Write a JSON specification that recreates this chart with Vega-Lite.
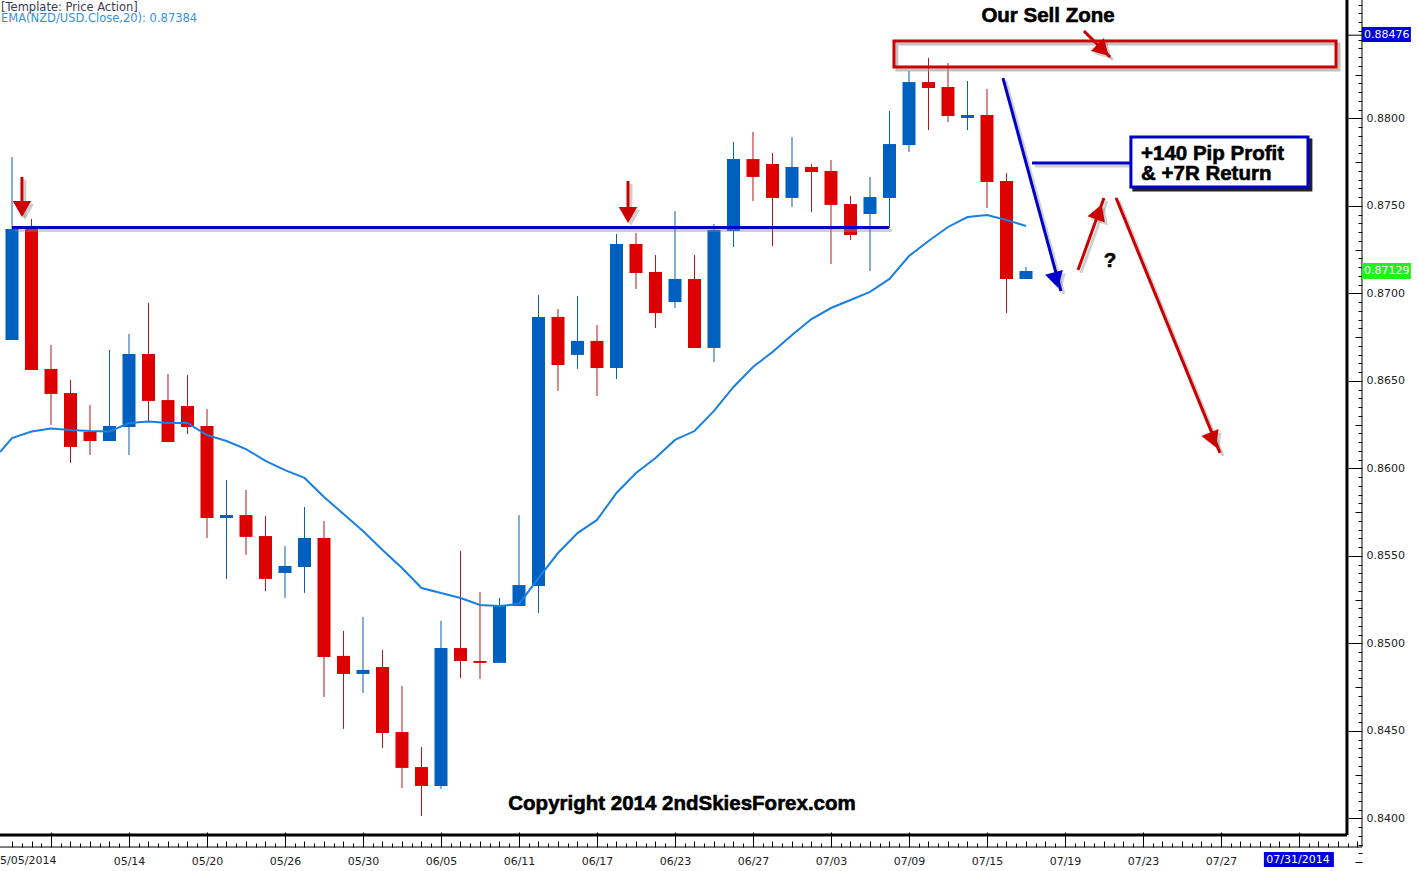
{"$schema":"https://vega.github.io/schema/vega-lite/v6.json","width":1418,"height":871,"padding":0,"autosize":{"type":"none"},"background":"white","config":{"scale":{"continuousPadding":0},"view":{"stroke":null},"axis":{"grid":false,"domain":false,"title":null,"tickColor":"#000","labelFont":"DejaVu Sans","labelFontSize":11,"labelColor":"#222"}},
"datasets":{
"candles":[
{"i":0,"dir":"up","open":0.86734,"high":0.8778,"low":0.86734,"close":0.87368},
{"i":1,"dir":"down","open":0.87368,"high":0.87426,"low":0.86563,"close":0.86563},
{"i":2,"dir":"down","open":0.86569,"high":0.86706,"low":0.86249,"close":0.86426},
{"i":3,"dir":"down","open":0.86431,"high":0.86506,"low":0.86031,"close":0.86123},
{"i":4,"dir":"down","open":0.86209,"high":0.86363,"low":0.86077,"close":0.86157},
{"i":5,"dir":"up","open":0.86157,"high":0.86677,"low":0.86157,"close":0.86243},
{"i":6,"dir":"up","open":0.86237,"high":0.86769,"low":0.86077,"close":0.86654},
{"i":7,"dir":"down","open":0.86654,"high":0.86946,"low":0.86266,"close":0.86386},
{"i":8,"dir":"down","open":0.86391,"high":0.8654,"low":0.86151,"close":0.86151},
{"i":9,"dir":"down","open":0.86357,"high":0.86534,"low":0.86197,"close":0.86237},
{"i":10,"dir":"down","open":0.86243,"high":0.8634,"low":0.85603,"close":0.85717},
{"i":11,"dir":"up","open":0.85717,"high":0.85934,"low":0.85369,"close":0.85734},
{"i":12,"dir":"down","open":0.85734,"high":0.85877,"low":0.85506,"close":0.85609},
{"i":13,"dir":"down","open":0.85614,"high":0.85729,"low":0.853,"close":0.85369},
{"i":14,"dir":"up","open":0.85403,"high":0.85557,"low":0.8526,"close":0.85443},
{"i":15,"dir":"up","open":0.85437,"high":0.8578,"low":0.85289,"close":0.85603},
{"i":16,"dir":"down","open":0.85603,"high":0.857,"low":0.84694,"close":0.84923},
{"i":17,"dir":"down","open":0.84929,"high":0.85072,"low":0.84512,"close":0.84826},
{"i":18,"dir":"up","open":0.84826,"high":0.85152,"low":0.84717,"close":0.84849},
{"i":19,"dir":"down","open":0.84866,"high":0.84963,"low":0.84403,"close":0.84489},
{"i":20,"dir":"down","open":0.84494,"high":0.84757,"low":0.84174,"close":0.84289},
{"i":21,"dir":"down","open":0.84294,"high":0.84409,"low":0.84014,"close":0.84186},
{"i":22,"dir":"up","open":0.84186,"high":0.85129,"low":0.84169,"close":0.84974},
{"i":23,"dir":"down","open":0.84974,"high":0.85529,"low":0.84803,"close":0.849},
{"i":24,"dir":"down","open":0.849,"high":0.85294,"low":0.84797,"close":0.84889},
{"i":25,"dir":"up","open":0.84889,"high":0.8526,"low":0.84889,"close":0.85214},
{"i":26,"dir":"up","open":0.85214,"high":0.85734,"low":0.85214,"close":0.85334},
{"i":27,"dir":"up","open":0.85329,"high":0.86991,"low":0.85174,"close":0.86866},
{"i":28,"dir":"down","open":0.86866,"high":0.86911,"low":0.86443,"close":0.86591},
{"i":29,"dir":"up","open":0.86649,"high":0.86986,"low":0.86569,"close":0.86729},
{"i":30,"dir":"down","open":0.86729,"high":0.8682,"low":0.86414,"close":0.86574},
{"i":31,"dir":"up","open":0.86574,"high":0.8734,"low":0.86511,"close":0.87283},
{"i":32,"dir":"down","open":0.87283,"high":0.87346,"low":0.87026,"close":0.87117},
{"i":33,"dir":"down","open":0.87123,"high":0.8722,"low":0.86803,"close":0.86888},
{"i":34,"dir":"up","open":0.86951,"high":0.87471,"low":0.86917,"close":0.87083},
{"i":35,"dir":"down","open":0.87083,"high":0.8722,"low":0.86689,"close":0.86689},
{"i":36,"dir":"up","open":0.86689,"high":0.87397,"low":0.86608,"close":0.87363},
{"i":37,"dir":"up","open":0.87357,"high":0.87866,"low":0.87266,"close":0.87768},
{"i":38,"dir":"down","open":0.87768,"high":0.87923,"low":0.87528,"close":0.87666},
{"i":39,"dir":"down","open":0.8774,"high":0.87803,"low":0.87271,"close":0.87546},
{"i":40,"dir":"up","open":0.87546,"high":0.87894,"low":0.87494,"close":0.87723},
{"i":41,"dir":"down","open":0.87723,"high":0.8774,"low":0.87466,"close":0.87694},
{"i":42,"dir":"down","open":0.877,"high":0.87763,"low":0.87168,"close":0.87506},
{"i":43,"dir":"down","open":0.87511,"high":0.87557,"low":0.87306,"close":0.87334},
{"i":44,"dir":"up","open":0.87454,"high":0.87666,"low":0.87128,"close":0.87551},
{"i":45,"dir":"up","open":0.87546,"high":0.88043,"low":0.87374,"close":0.87854},
{"i":46,"dir":"up","open":0.87848,"high":0.88271,"low":0.87808,"close":0.88208},
{"i":47,"dir":"down","open":0.88208,"high":0.88346,"low":0.87934,"close":0.88174},
{"i":48,"dir":"down","open":0.8818,"high":0.88317,"low":0.8798,"close":0.88014},
{"i":49,"dir":"up","open":0.88003,"high":0.88214,"low":0.87934,"close":0.8802},
{"i":50,"dir":"down","open":0.8802,"high":0.88168,"low":0.87488,"close":0.87637},
{"i":51,"dir":"down","open":0.87643,"high":0.87688,"low":0.86888,"close":0.87083},
{"i":52,"dir":"up","open":0.87083,"high":0.87151,"low":0.87083,"close":0.87129}],
"ema":[{"i":-0.615,"p":0.86094},{"i":0,"p":0.86174},{"i":1,"p":0.86211},{"i":2,"p":0.86229},{"i":3,"p":0.8622},{"i":4,"p":0.86214},{"i":5,"p":0.86211},{"i":6,"p":0.8626},{"i":7,"p":0.86269},{"i":8,"p":0.8626},{"i":9,"p":0.8626},{"i":10,"p":0.86191},{"i":11,"p":0.86157},{"i":12,"p":0.86111},{"i":13,"p":0.86043},{"i":14,"p":0.85991},{"i":15,"p":0.85946},{"i":16,"p":0.85837},{"i":17,"p":0.8574},{"i":18,"p":0.85643},{"i":19,"p":0.85534},{"i":20,"p":0.85431},{"i":21,"p":0.85317},{"i":22,"p":0.85289},{"i":23,"p":0.8526},{"i":24,"p":0.8522},{"i":25,"p":0.85214},{"i":26,"p":0.85226},{"i":27,"p":0.85374},{"i":28,"p":0.85517},{"i":29,"p":0.85631},{"i":30,"p":0.85706},{"i":31,"p":0.8586},{"i":32,"p":0.85974},{"i":33,"p":0.8606},{"i":34,"p":0.86163},{"i":35,"p":0.86214},{"i":36,"p":0.86329},{"i":37,"p":0.86466},{"i":38,"p":0.8658},{"i":39,"p":0.86666},{"i":40,"p":0.86763},{"i":41,"p":0.86854},{"i":42,"p":0.86917},{"i":43,"p":0.86963},{"i":44,"p":0.87009},{"i":45,"p":0.87083},{"i":46,"p":0.87214},{"i":47,"p":0.873},{"i":48,"p":0.8738},{"i":49,"p":0.87437},{"i":50,"p":0.87448},{"i":51,"p":0.8742},{"i":52,"p":0.87386}],
"thickFrame":[{"i":-0.6154,"i2":68.46,"p":0.83906,"p2":0.83906},{"i":68.46,"i2":68.46,"p":0.88677,"p2":0.83906}],
"thinFrame":[{"i":-0.6154,"i2":69.23,"p":0.83837,"p2":0.83837},{"i":69.23,"i2":69.23,"p":0.88677,"p2":0.83837},{"i":68.46,"i2":69.23,"p":0.88476,"p2":0.88476}],
"segments":[
{"kind":"blue","i":0,"i2":44.97,"p":0.87377,"p2":0.87377},
{"kind":"blue","i":52.31,"i2":57.38,"p":0.87746,"p2":0.87746},
{"kind":"blue","i":50.82,"i2":53.79,"p":0.88231,"p2":0.87014},
{"kind":"red","i":54.97,"i2":56.31,"p":0.885,"p2":0.88351},
{"kind":"red","i":54.67,"i2":56,"p":0.87134,"p2":0.87546},
{"kind":"red","i":56.62,"i2":61.95,"p":0.87546,"p2":0.86089},
{"kind":"red","i":0.51,"i2":0.51,"p":0.87666,"p2":0.87449},
{"kind":"red","i":31.59,"i2":31.59,"p":0.87643,"p2":0.87449}],
"segmentShadows":[
{"i":0.15,"i2":45.12,"p":0.8736,"p2":0.8736},
{"i":52.46,"i2":57.53,"p":0.87729,"p2":0.87729},
{"i":50.97,"i2":53.94,"p":0.88214,"p2":0.86997},
{"i":55.12,"i2":56.46,"p":0.88483,"p2":0.88334},
{"i":54.82,"i2":56.15,"p":0.87117,"p2":0.87529},
{"i":56.77,"i2":62.1,"p":0.87529,"p2":0.86072},
{"i":0.66,"i2":0.66,"p":0.87649,"p2":0.87432},
{"i":31.74,"i2":31.74,"p":0.87626,"p2":0.87432}],
"heads":[
{"kind":"red","i":55.95,"p":0.88391,"heading":135},
{"kind":"blue","i":53.54,"p":0.87077,"heading":165},
{"kind":"red","i":55.74,"p":0.87466,"heading":20},
{"kind":"red","i":61.59,"p":0.86163,"heading":158},
{"kind":"red","i":0.51,"p":0.87483,"heading":180},
{"kind":"red","i":31.59,"p":0.87449,"heading":180}],
"headShadows":[
{"i":56.1,"p":0.88374,"heading":135},
{"i":53.69,"p":0.8706,"heading":165},
{"i":55.89,"p":0.87449,"heading":20},
{"i":61.74,"p":0.86146,"heading":158},
{"i":0.66,"p":0.87466,"heading":180},
{"i":31.74,"p":0.87432,"heading":180}],
"zone":[{"name":"Sell zone","i":45.23,"i2":67.9,"p":0.88443,"p2":0.88294}],
"zoneShadow":[{"i":45.38,"i2":68.05,"p":0.88426,"p2":0.88277}],
"box":[{"name":"Profit box","i":57.38,"i2":66.46,"p":0.87894,"p2":0.87609}],
"boxShadow":[{"i":57.53,"i2":66.61,"p":0.87877,"p2":0.87592}],
"tags":[
{"kind":"last","i":69.23,"i2":71.74,"p":0.88523,"p2":0.88437},
{"kind":"price","i":69.23,"i2":71.74,"p":0.87174,"p2":0.87083},
{"kind":"last","i":64.2,"i2":67.79,"p":0.83809,"p2":0.83723}]
},
"layer":[
{"data":{"name":"candles"},"mark":{"type":"rule","strokeWidth":1},"encoding":{
"x":{"field":"i","type":"quantitative","scale":{"domain":[-0.6154,72.103],"nice":false},"axis":{"orient":"bottom","offset":-24,"tickSize":-15,"tickWidth":1,"values":[2,6,10,14,18,22,26,30,34,38,42,46,50,54,58,62,66],"labelExpr":"['','05/14','05/20','05/26','05/30','06/05','06/11','06/17','06/23','06/27','07/03','07/09','07/15','07/19','07/23','07/27',''][(datum.value-2)/4]","labelOverlap":false,"labelPadding":23,"labelFlush":false}},
"y":{"field":"low","type":"quantitative","scale":{"domain":[0.837,0.88677],"zero":false,"nice":false},"axis":{"orient":"right","offset":-56,"tickSize":-14,"values":[0.84,0.845,0.85,0.855,0.86,0.865,0.87,0.875,0.88],"format":".4f","labelPadding":18,"labelOverlap":false,"labelFlush":false}},
"y2":{"field":"high"},
"color":{"field":"dir","type":"nominal","legend":null,"scale":{"domain":["up","down"],"range":["#0b5ca8","#b01818"]}}}},
{"data":{"name":"candles"},"mark":{"type":"bar","size":13},"encoding":{
"x":{"field":"i","type":"quantitative","scale":{"domain":[-0.6154,72.103],"nice":false,"padding":0},"axis":{"orient":"bottom","offset":-24,"tickSize":-6,"tickWidth":1,"values":[0,1,3,4,5,7,8,9,11,12,13,15,16,17,19,20,21,23,24,25,27,28,29,31,32,33,35,36,37,39,40,41,43,44,45,47,48,49,51,52,53,55,56,57,59,60,61,63,64,65,67,68,69],"labels":false}},
"y":{"field":"open","type":"quantitative","scale":{"domain":[0.837,0.88677],"zero":false,"nice":false},"axis":{"orient":"right","offset":-56,"tickSize":-7,"values":[0.8375,0.8425,0.8475,0.8525,0.8575,0.8625,0.8675,0.8725,0.8775,0.8825],"labels":false}},
"y2":{"field":"close"},
"color":{"field":"dir","type":"nominal","legend":null,"scale":{"domain":["up","down"],"range":["#0060bf","#dd0000"]}}}},
{"data":{"name":"ema"},"mark":{"type":"line","stroke":"#1a80e0","strokeWidth":2,"interpolate":"linear"},"encoding":{
"x":{"field":"i","type":"quantitative","scale":{"domain":[-0.6154,72.103],"nice":false},"axis":{"orient":"bottom","offset":-24,"tickSize":-4,"tickWidth":1,"values":[0.5,1.5,2.5,3.5,4.5,5.5,6.5,7.5,8.5,9.5,10.5,11.5,12.5,13.5,14.5,15.5,16.5,17.5,18.5,19.5,20.5,21.5,22.5,23.5,24.5,25.5,26.5,27.5,28.5,29.5,30.5,31.5,32.5,33.5,34.5,35.5,36.5,37.5,38.5,39.5,40.5,41.5,42.5,43.5,44.5,45.5,46.5,47.5,48.5,49.5,50.5,51.5,52.5,53.5,54.5,55.5,56.5,57.5,58.5,59.5,60.5,61.5,62.5,63.5,64.5,65.5,66.5,67.5,68.5],"labels":false}},
"y":{"field":"p","type":"quantitative","scale":{"domain":[0.837,0.88677],"zero":false,"nice":false},"axis":{"orient":"right","offset":-56,"tickSize":-4,"values":[0.838,0.8385,0.839,0.8395,0.8405,0.841,0.8415,0.842,0.843,0.8435,0.844,0.8445,0.8455,0.846,0.8465,0.847,0.848,0.8485,0.849,0.8495,0.8505,0.851,0.8515,0.852,0.853,0.8535,0.854,0.8545,0.8555,0.856,0.8565,0.857,0.858,0.8585,0.859,0.8595,0.8605,0.861,0.8615,0.862,0.863,0.8635,0.864,0.8645,0.8655,0.866,0.8665,0.867,0.868,0.8685,0.869,0.8695,0.8705,0.871,0.8715,0.872,0.873,0.8735,0.874,0.8745,0.8755,0.876,0.8765,0.877,0.878,0.8785,0.879,0.8795,0.8805,0.881,0.8815,0.882,0.883,0.8835,0.884,0.8845,0.885,0.8855,0.886,0.8865],"labels":false}}}},
{"data":{"name":"thickFrame"},"mark":{"type":"rule","stroke":"#000","strokeWidth":3},"encoding":{"x":{"field":"i","type":"quantitative","scale":{"domain":[-0.6154,72.103],"nice":false},"axis":null},"x2":{"field":"i2"},"y":{"field":"p","type":"quantitative","scale":{"domain":[0.837,0.88677],"zero":false,"nice":false},"axis":null},"y2":{"field":"p2"}}},
{"data":{"name":"thinFrame"},"mark":{"type":"rule","stroke":"#000","strokeWidth":1},"encoding":{"x":{"field":"i","type":"quantitative","scale":{"domain":[-0.6154,72.103],"nice":false},"axis":null},"x2":{"field":"i2"},"y":{"field":"p","type":"quantitative","scale":{"domain":[0.837,0.88677],"zero":false,"nice":false},"axis":null},"y2":{"field":"p2"}}},
{"data":{"name":"zoneShadow"},"mark":{"type":"rect","fill":null,"stroke":"#999","strokeWidth":3,"opacity":0.6},"encoding":{"x":{"field":"i","type":"quantitative","scale":{"domain":[-0.6154,72.103],"nice":false},"axis":null},"x2":{"field":"i2"},"y":{"field":"p","type":"quantitative","scale":{"domain":[0.837,0.88677],"zero":false,"nice":false},"axis":null},"y2":{"field":"p2"}}},
{"data":{"name":"segmentShadows"},"mark":{"type":"rule","stroke":"#888","strokeWidth":3,"opacity":0.4},"encoding":{"x":{"field":"i","type":"quantitative","scale":{"domain":[-0.6154,72.103],"nice":false},"axis":null},"x2":{"field":"i2"},"y":{"field":"p","type":"quantitative","scale":{"domain":[0.837,0.88677],"zero":false,"nice":false},"axis":null},"y2":{"field":"p2"}}},
{"data":{"name":"headShadows"},"mark":{"type":"point","shape":"triangle-up","filled":true,"fill":"#888","opacity":0.4,"size":340},"encoding":{"x":{"field":"i","type":"quantitative","scale":{"domain":[-0.6154,72.103],"nice":false},"axis":null},"y":{"field":"p","type":"quantitative","scale":{"domain":[0.837,0.88677],"zero":false,"nice":false},"axis":null},"angle":{"field":"heading","type":"quantitative","scale":{"domain":[0,360],"range":[0,360]}}}},
{"data":{"name":"segments"},"mark":{"type":"rule","strokeWidth":3},"encoding":{"x":{"field":"i","type":"quantitative","scale":{"domain":[-0.6154,72.103],"nice":false},"axis":null},"x2":{"field":"i2"},"y":{"field":"p","type":"quantitative","scale":{"domain":[0.837,0.88677],"zero":false,"nice":false},"axis":null},"y2":{"field":"p2"},"stroke":{"field":"kind","type":"nominal","legend":null,"scale":{"domain":["blue","red"],"range":["#0000cc","#cc0000"]}}}},
{"data":{"name":"heads"},"mark":{"type":"point","shape":"triangle-up","filled":true,"opacity":1,"size":340},"encoding":{"x":{"field":"i","type":"quantitative","scale":{"domain":[-0.6154,72.103],"nice":false},"axis":null},"y":{"field":"p","type":"quantitative","scale":{"domain":[0.837,0.88677],"zero":false,"nice":false},"axis":null},"angle":{"field":"heading","type":"quantitative","scale":{"domain":[0,360],"range":[0,360]}},"fill":{"field":"kind","type":"nominal","legend":null,"scale":{"domain":["blue","red"],"range":["#0000cc","#cc0000"]}}}},
{"data":{"name":"zone"},"mark":{"type":"rect","fill":null,"stroke":"#cc0000","strokeWidth":3},"encoding":{"x":{"field":"i","type":"quantitative","scale":{"domain":[-0.6154,72.103],"nice":false},"axis":null},"x2":{"field":"i2"},"y":{"field":"p","type":"quantitative","scale":{"domain":[0.837,0.88677],"zero":false,"nice":false},"axis":null},"y2":{"field":"p2"}}},
{"data":{"name":"boxShadow"},"mark":{"type":"rect","fill":"#222","stroke":"#222","strokeWidth":3},"encoding":{"x":{"field":"i","type":"quantitative","scale":{"domain":[-0.6154,72.103],"nice":false},"axis":null},"x2":{"field":"i2"},"y":{"field":"p","type":"quantitative","scale":{"domain":[0.837,0.88677],"zero":false,"nice":false},"axis":null},"y2":{"field":"p2"}}},
{"data":{"name":"box"},"mark":{"type":"rect","fill":"white","stroke":"#0000cc","strokeWidth":3},"encoding":{"x":{"field":"i","type":"quantitative","scale":{"domain":[-0.6154,72.103],"nice":false},"axis":null},"x2":{"field":"i2"},"y":{"field":"p","type":"quantitative","scale":{"domain":[0.837,0.88677],"zero":false,"nice":false},"axis":null},"y2":{"field":"p2"}}},
{"data":{"name":"tags"},"mark":{"type":"rect"},"encoding":{"x":{"field":"i","type":"quantitative","scale":{"domain":[-0.6154,72.103],"nice":false},"axis":null},"x2":{"field":"i2"},"y":{"field":"p","type":"quantitative","scale":{"domain":[0.837,0.88677],"zero":false,"nice":false},"axis":null},"y2":{"field":"p2"},"fill":{"field":"kind","type":"nominal","legend":null,"scale":{"domain":["last","price"],"range":["#0000d8","#22f022"]}}}},
{"data":{"values":[{"label":"0.88476","i":69.33,"p":0.88476},{"label":"0.87129","i":69.33,"p":0.87129}]},"mark":{"type":"text","align":"left","baseline":"middle","font":"DejaVu Sans","fontSize":11,"fill":"white"},"encoding":{"x":{"field":"i","type":"quantitative","scale":{"domain":[-0.6154,72.103],"nice":false},"axis":null},"y":{"field":"p","type":"quantitative","scale":{"domain":[0.837,0.88677],"zero":false,"nice":false},"axis":null},"text":{"field":"label"}}},
{"data":{"values":[{"label":"07/31/2014","i":65.95,"p":0.83763}]},"mark":{"type":"text","align":"center","baseline":"middle","font":"DejaVu Sans","fontSize":11,"fill":"white"},"encoding":{"x":{"field":"i","type":"quantitative","scale":{"domain":[-0.6154,72.103],"nice":false},"axis":null},"y":{"field":"p","type":"quantitative","scale":{"domain":[0.837,0.88677],"zero":false,"nice":false},"axis":null},"text":{"field":"label"}}},
{"data":{"values":[{"label":"5/05/2014","i":-0.615,"p":0.83757}]},"mark":{"type":"text","align":"left","baseline":"middle","font":"DejaVu Sans","fontSize":11,"fill":"#222"},"encoding":{"x":{"field":"i","type":"quantitative","scale":{"domain":[-0.6154,72.103],"nice":false},"axis":null},"y":{"field":"p","type":"quantitative","scale":{"domain":[0.837,0.88677],"zero":false,"nice":false},"axis":null},"text":{"field":"label"}}},
{"data":{"values":[{"label":"[Template: Price Action]","i":-0.564,"p":0.88634,"kind":"template"},{"label":"EMA(NZD/USD.Close,20): 0.87384","i":-0.564,"p":0.88568,"kind":"ema"}]},"mark":{"type":"text","align":"left","baseline":"middle","font":"DejaVu Sans","fontSize":11.5},"encoding":{"x":{"field":"i","type":"quantitative","scale":{"domain":[-0.6154,72.103],"nice":false},"axis":null},"y":{"field":"p","type":"quantitative","scale":{"domain":[0.837,0.88677],"zero":false,"nice":false},"axis":null},"text":{"field":"label"},"fill":{"field":"kind","type":"nominal","legend":null,"scale":{"domain":["template","ema"],"range":["#3a3a55","#3a8fdc"]}}}},
{"data":{"values":[{"label":"Our Sell Zone","i":53.13,"p":0.88585},{"label":"Copyright 2014 2ndSkiesForex.com","i":34.36,"p":0.84083},{"label":"?","i":56.31,"p":0.87185}]},"mark":{"type":"text","align":"center","baseline":"middle","font":"Liberation Sans","fontWeight":"bold","fontSize":20.5,"fill":"#000","stroke":"#000","strokeWidth":0.6},"encoding":{"x":{"field":"i","type":"quantitative","scale":{"domain":[-0.6154,72.103],"nice":false},"axis":null},"y":{"field":"p","type":"quantitative","scale":{"domain":[0.837,0.88677],"zero":false,"nice":false},"axis":null},"text":{"field":"label"}}},
{"data":{"values":[{"label":"+140 Pip Profit","i":57.9,"p":0.87797},{"label":"& +7R Return","i":57.9,"p":0.87683}]},"mark":{"type":"text","align":"left","baseline":"middle","font":"Liberation Sans","fontWeight":"bold","fontSize":20.5,"fill":"#000","stroke":"#000","strokeWidth":0.6},"encoding":{"x":{"field":"i","type":"quantitative","scale":{"domain":[-0.6154,72.103],"nice":false},"axis":null},"y":{"field":"p","type":"quantitative","scale":{"domain":[0.837,0.88677],"zero":false,"nice":false},"axis":null},"text":{"field":"label"}}}
],
"resolve":{"axis":{"x":"independent","y":"independent"},"scale":{"color":"independent","fill":"independent","stroke":"independent"}}}
